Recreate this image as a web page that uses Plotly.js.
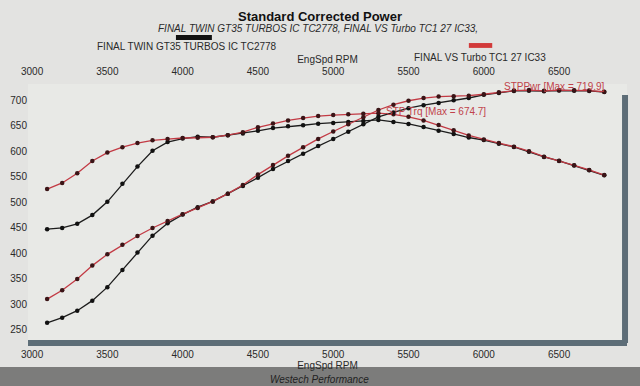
<!DOCTYPE html>
<html>
<head>
<meta charset="utf-8">
<script src="https://cdn.plot.ly/plotly-3.0.1.min.js"></script>
<style>html,body{margin:0;padding:0;background:#e2e2e0;}#chart{width:640px;height:386px;}</style>
</head>
<body>
<div id="chart"></div>
<script>
// Engine speed (rpm) of each dyno sample
const rpm = [3100,3200,3300,3400,3500,3600,3700,3800,3900,4000,
             4100,4200,4300,4400,4500,4600,4700,4800,4900,5000,
             5100,5200,5300,5400,5500,5600,5700,5800,5900,6000,
             6100,6200,6300,6400,6500,6600,6700,6800];

// FINAL VS Turbo TC1 27 IC33 (red)
const trqVS = [526,538,557,581,597.5,608,616,621.5,624,626,
               626.5,627.5,631.5,637.5,647,654.5,660.5,665,669,671,
               672.5,673.5,674.7,672.5,667.5,660.5,651.5,641,631,623,
               616,609,600.2,589.5,581.5,572.5,563.5,553.5];
const pwrVS = [310.5,327.8,350.0,376.1,398.2,416.8,434.0,449.7,463.4,476.8,
               489.1,501.8,517.0,534.1,554.4,573.3,591.1,607.8,624.2,638.8,
               653.0,666.8,680.9,691.4,699.0,704.3,707.1,707.9,708.9,711.7,
               715.5,718.9,719.9,718.4,719.7,719.4,718.9,716.6];

// FINAL TWIN GT35 TURBOS IC TC2778 (black)
const trqGT = [447.5,450,458,475,501,536.5,570,601,618,625,
               628.5,627.5,631.5,635,640,645.5,649,651,654,655.5,
               657.5,659.5,661.5,657.5,653.5,647.5,640,634,627,622,
               615,608.5,599,589,581,572,563,553];
const pwrGT = [264.1,274.2,287.8,307.5,333.9,367.7,401.6,434.8,458.9,476.0,
               490.6,501.8,517.0,532.0,548.4,565.4,580.8,595.0,610.2,624.1,
               638.5,653.0,667.5,676.0,684.4,690.4,694.6,700.2,704.4,710.6,
               714.3,718.3,718.5,717.7,719.1,718.8,718.2,716.0];

const xTicks = [3000,3500,4000,4500,5000,5500,6000,6500];
const yTicks = [250,300,350,400,450,500,550,600,650,700];

const seriesNames = ['FINAL TWIN GT35 TURBOS IC TC2778','FINAL VS Turbo TC1 27 IC33'];

const FONT = 'Liberation Sans Narrow, Arial Narrow, Liberation Sans, Arial, sans-serif';
const RED = '#c23a44';
const BLK = '#1c1c1c';

function tr(y, name, lineColor, markColor, xa) {
  return {
    x: rpm, y: y, type: 'scatter', mode: 'lines+markers', name: name,
    xaxis: xa, yaxis: 'y',
    line: {color: lineColor, width: 1.3},
    marker: {color: markColor, size: 4.5},
    showlegend: false, cliponaxis: false
  };
}

const data = [
  tr(trqGT, 'STP Trq ' + seriesNames[0], BLK, '#111', 'x'),
  tr(trqVS, 'STP Trq ' + seriesNames[1], RED, '#3a1416', 'x'),
  tr(pwrGT, 'STPPwr ' + seriesNames[0], BLK, '#111', 'x2'),
  tr(pwrVS, 'STPPwr ' + seriesNames[1], RED, '#3a1416', 'x2')
];

const xr = [2973, 6951];
const layout = {
  width: 640, height: 386,
  margin: {l: 28, r: 13, t: 84, b: 46},
  paper_bgcolor: '#e3e3e1',
  plot_bgcolor: '#e8e9e6',
  font: {family: FONT, color: '#2a2a2a', size: 10},
  title: {text: '<b>Standard Corrected Power</b>', font: {family: 'Liberation Sans, Arial, sans-serif', size: 13, color: '#111'},
          x: 0.5, xanchor: 'center', y: 0.958, yanchor: 'middle', yref: 'container'},
  xaxis: {range: xr, tickvals: xTicks, ticks: '', showgrid: false, zeroline: false,
          showline: true, linecolor: '#5d6d77', linewidth: 6,
          tickfont: {size: 10, color: '#2a2a2a'},
          title: {text: 'EngSpd RPM', font: {size: 10, color: '#2a2a2a'}, standoff: 0}},
  xaxis2: {range: xr, matches: 'x', tickvals: xTicks, ticks: '', overlaying: 'x', side: 'top', anchor: 'y',
           showgrid: false, zeroline: false, showline: false, ticklabelstandoff: 6,
           tickfont: {size: 10, color: '#2a2a2a'},
           title: {text: 'EngSpd RPM', font: {size: 10, color: '#2a2a2a'}, standoff: 0}},
  yaxis: {range: [230.4, 731.8], tickvals: yTicks, ticks: '', showgrid: false, zeroline: false,
          showline: false, tickfont: {size: 10, color: '#2a2a2a'}},
  shapes: [
    {type: 'rect', xref: 'paper', yref: 'paper', x0: 0.9917, x1: 1.0017, y0: -0.012, y1: 0.957,
     fillcolor: '#5d6d77', line: {width: 0}},
    {type: 'rect', xref: 'paper', yref: 'paper', x0: 0.247, x1: 0.307, y0: 1.172, y1: 1.191,
     fillcolor: '#111', line: {width: 0}},
    {type: 'rect', xref: 'paper', yref: 'paper', x0: 0.736, x1: 0.775, y0: 1.141, y1: 1.160,
     fillcolor: '#d23a3a', line: {width: 0}},
    {type: 'rect', xref: 'paper', yref: 'paper', x0: -0.06, x1: 1.03, y0: -0.19, y1: -0.105,
     fillcolor: '#7c7c7b', line: {width: 0}, layer: 'below'}
  ],
  annotations: [
    {xref: 'paper', yref: 'paper', x: 0.484, y: 1.215, showarrow: false, xanchor: 'center', yanchor: 'middle',
     text: '<i>' + seriesNames[0] + ', ' + seriesNames[1] + ',</i>', font: {size: 10, color: '#2a2a2a'}},
    {xref: 'paper', yref: 'paper', x: 0.265, y: 1.145, showarrow: false, xanchor: 'center', yanchor: 'middle',
     text: seriesNames[0], font: {size: 10, color: '#2a2a2a'}},
    {xref: 'paper', yref: 'paper', x: 0.755, y: 1.105, showarrow: false, xanchor: 'center', yanchor: 'middle',
     text: seriesNames[1], font: {size: 10, color: '#2a2a2a'}},
    {xref: 'x', yref: 'y', x: 5340, y: 677, showarrow: false, xanchor: 'left', yanchor: 'middle',
     text: 'STP Trq [Max = 674.7]', font: {size: 10, color: '#c0424a'}},
    {xref: 'x', yref: 'y', x: 6120, y: 727, showarrow: false, xanchor: 'left', yanchor: 'middle',
     text: 'STPPwr [Max = 719.9]', font: {size: 10, color: '#c0424a'}},
    {xref: 'paper', yref: 'paper', x: 0.487, y: -0.156, showarrow: false, xanchor: 'center', yanchor: 'middle',
     text: '<i>Westech Performance</i>', font: {size: 10, color: '#222'}}
  ]
};

Plotly.newPlot('chart', data, layout, {displayModeBar: false, staticPlot: true});
</script>
</body>
</html>
